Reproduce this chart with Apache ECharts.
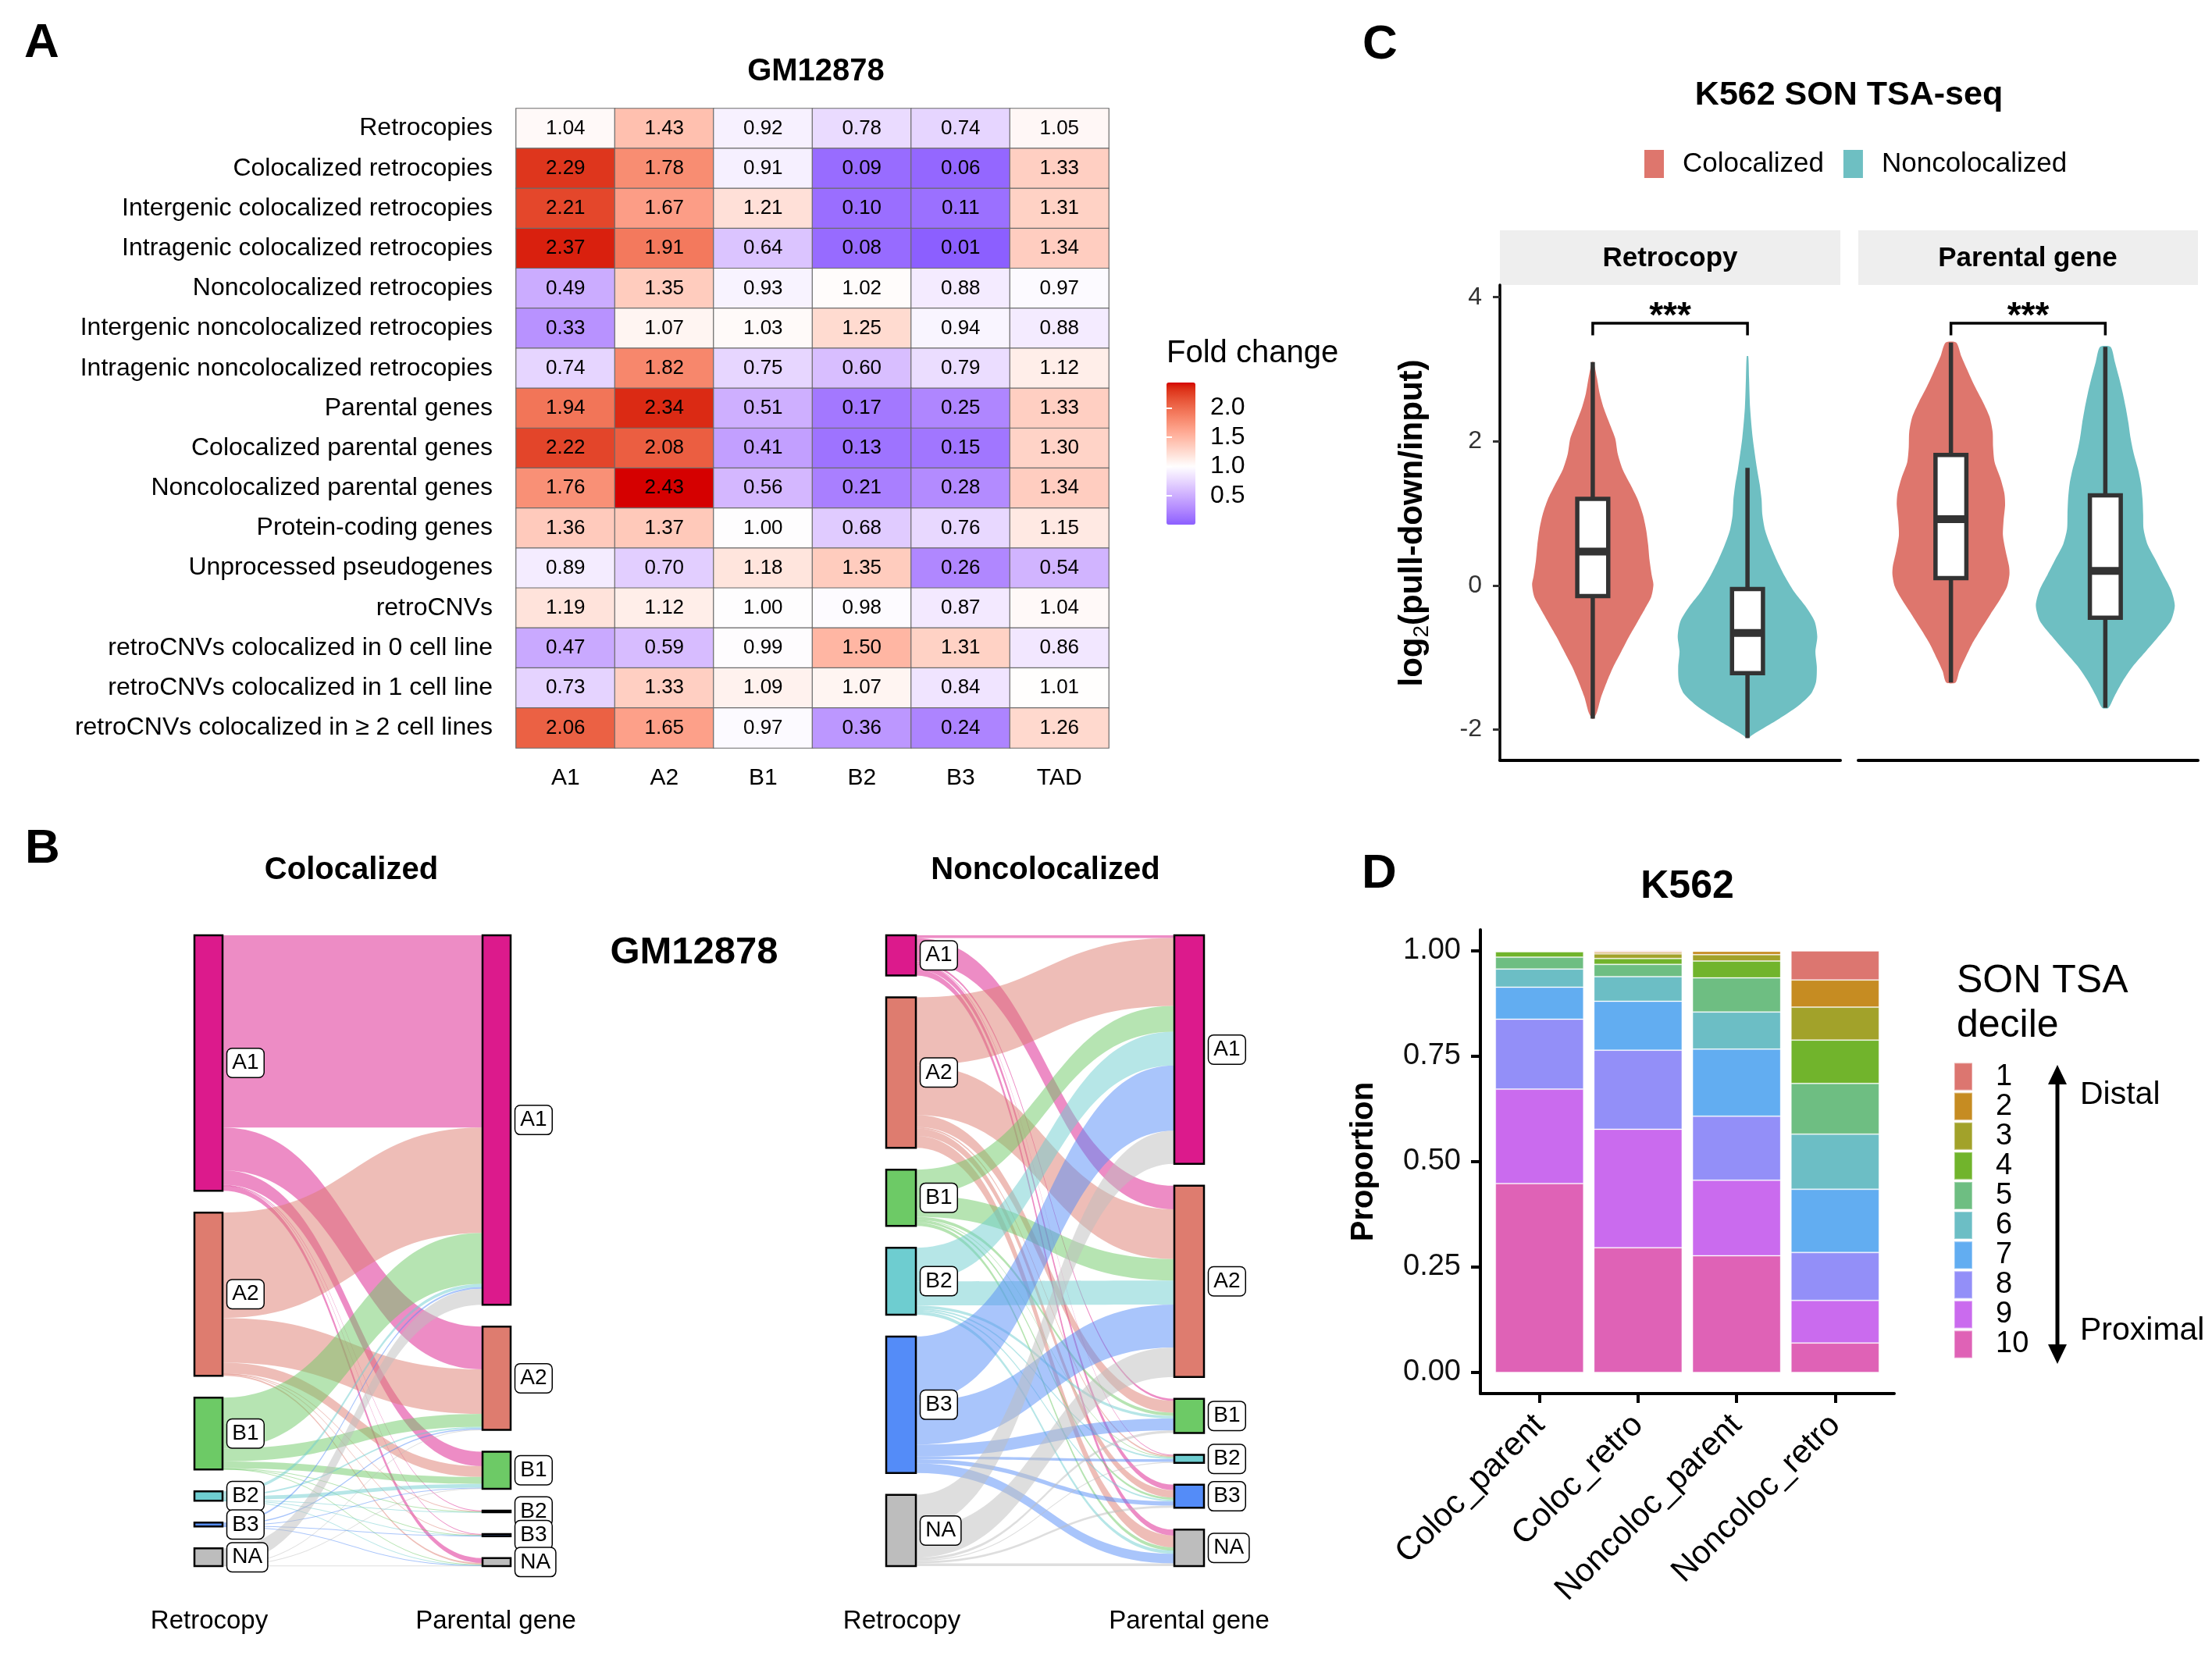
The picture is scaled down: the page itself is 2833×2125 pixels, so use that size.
<!DOCTYPE html>
<html><head><meta charset="utf-8">
<script src="https://cdn.jsdelivr.net/npm/echarts@6/dist/echarts.min.js"></script>
<style>html,body{margin:0;padding:0;background:#fff}#c{width:2833px;height:2125px}</style>
</head><body><div id="c"></div>
<script>
const FONT = '"Liberation Sans", Arial, Helvetica, sans-serif';

// ---------------- Panel A data ----------------
const heatRows = ["Retrocopies","Colocalized retrocopies","Intergenic colocalized retrocopies","Intragenic colocalized retrocopies","Noncolocalized retrocopies","Intergenic noncolocalized retrocopies","Intragenic noncolocalized retrocopies","Parental genes","Colocalized parental genes","Noncolocalized parental genes","Protein-coding genes","Unprocessed pseudogenes","retroCNVs","retroCNVs colocalized in 0 cell line","retroCNVs colocalized in 1 cell line","retroCNVs colocalized in \u2265 2 cell lines"];
const heatCols = ["A1","A2","B1","B2","B3","TAD"];
const heatValues = [
  [1.04,1.43,0.92,0.78,0.74,1.05],
  [2.29,1.78,0.91,0.09,0.06,1.33],
  [2.21,1.67,1.21,0.10,0.11,1.31],
  [2.37,1.91,0.64,0.08,0.01,1.34],
  [0.49,1.35,0.93,1.02,0.88,0.97],
  [0.33,1.07,1.03,1.25,0.94,0.88],
  [0.74,1.82,0.75,0.60,0.79,1.12],
  [1.94,2.34,0.51,0.17,0.25,1.33],
  [2.22,2.08,0.41,0.13,0.15,1.30],
  [1.76,2.43,0.56,0.21,0.28,1.34],
  [1.36,1.37,1.00,0.68,0.76,1.15],
  [0.89,0.70,1.18,1.35,0.26,0.54],
  [1.19,1.12,1.00,0.98,0.87,1.04],
  [0.47,0.59,0.99,1.50,1.31,0.86],
  [0.73,1.33,1.09,1.07,0.84,1.01],
  [2.06,1.65,0.97,0.36,0.24,1.26]
];
const foldTicks = [0.5, 1.0, 1.5, 2.0];
const foldMid = 1;

// ---------------- Panel B data ----------------
const strata = ["A1","A2","B1","B2","B3","NA"];
// rows: retrocopy stratum, columns: parental gene stratum
const colocFlows = [
  [359, 80, 27, 1, 1, 9],
  [197, 83, 20, 1, 1, 3],
  [95, 24, 13, 0.5, 0.5, 1],
  [6, 3, 7, 0.5, 0.5, 0.5],
  [3, 2, 1, 0, 1, 0.5],
  [30, 1, 1, 0, 0, 1]
];
const noncolocFlows = [
  [5, 44, 4, 1, 10, 11],
  [127, 93, 22, 3, 14, 22],
  [48, 40, 6, 1, 4, 6],
  [63, 45, 5, 3, 3, 6],
  [122, 80, 22, 5, 8, 18],
  [62, 55, 5, 2, 4, 5]
];

// ---------------- Panel C data ----------------
const violinGroups = ["Colocalized","Noncolocalized"];
const facetNames = ["Retrocopy","Parental gene"];
// [value, half-width in group units]
const violinRetroColoc = [[3.10,0.005],[2.88,0.027],[2.67,0.044],[2.46,0.071],[2.25,0.108],[2.04,0.145],[1.82,0.162],[1.61,0.193],[1.40,0.243],[1.19,0.291],[0.98,0.324],[0.77,0.345],[0.56,0.358],[0.35,0.367],[0.13,0.382],[0.01,0.392],[-0.16,0.378],[-0.33,0.336],[-0.50,0.291],[-0.71,0.235],[-0.92,0.184],[-1.13,0.133],[-1.34,0.091],[-1.55,0.054],[-1.76,0.027],[-1.85,0.005]];
const violinRetroNoncoloc = [[3.18,0.005],[2.88,0.010],[2.46,0.017],[2.04,0.034],[1.61,0.062],[1.40,0.079],[1.19,0.091],[0.98,0.096],[0.77,0.113],[0.56,0.147],[0.35,0.189],[0.13,0.240],[-0.08,0.299],[-0.29,0.375],[-0.50,0.434],[-0.71,0.451],[-0.92,0.439],[-1.13,0.448],[-1.34,0.443],[-1.51,0.409],[-1.68,0.324],[-1.85,0.206],[-1.98,0.105],[-2.08,0.029],[-2.12,0.005]];
const violinParentColoc = [[3.37,0.034],[3.18,0.067],[2.97,0.110],[2.76,0.155],[2.55,0.206],[2.34,0.250],[2.13,0.270],[1.92,0.273],[1.71,0.283],[1.49,0.320],[1.28,0.346],[1.12,0.351],[0.90,0.341],[0.69,0.337],[0.48,0.354],[0.27,0.376],[0.15,0.379],[-0.02,0.363],[-0.19,0.320],[-0.40,0.256],[-0.61,0.194],[-0.82,0.135],[-1.03,0.088],[-1.19,0.054],[-1.35,0.030]];
const violinParentNoncoloc = [[3.31,0.034],[3.10,0.062],[2.89,0.088],[2.67,0.113],[2.46,0.133],[2.25,0.150],[2.04,0.164],[1.83,0.184],[1.62,0.211],[1.41,0.231],[1.20,0.241],[0.99,0.245],[0.78,0.248],[0.57,0.273],[0.36,0.324],[0.15,0.374],[-0.06,0.425],[-0.28,0.450],[-0.49,0.425],[-0.70,0.349],[-0.91,0.265],[-1.12,0.180],[-1.33,0.113],[-1.54,0.059],[-1.70,0.020]];
// [lower whisker, Q1, median, Q3, upper whisker]
const boxRetroColoc = [-1.85,-0.15,0.47,1.20,3.10];
const boxRetroNoncoloc = [-2.12,-1.22,-0.66,-0.05,1.63];
const boxParentColoc = [-1.35,0.10,0.92,1.81,3.37];
const boxParentNoncoloc = [-1.70,-0.45,0.20,1.25,3.31];
const yTicksC = [-2, 0, 2, 4];
const sigLabel = "***";
const bracketTop = 3.64, bracketLeg = 3.47;

// ---------------- Panel D data ----------------
const dCategories = ["Coloc_parent","Coloc_retro","Noncoloc_parent","Noncoloc_retro"];
const decileNames = ["1","2","3","4","5","6","7","8","9","10"];
const decile1 = [0.0005,0.003,0.001,0.069];
const decile2 = [0.0005,0.004,0.008,0.0645];
const decile3 = [0.001,0.011,0.015,0.078];
const decile4 = [0.013,0.014,0.040,0.103];
const decile5 = [0.028,0.029,0.081,0.120];
const decile6 = [0.043,0.0585,0.088,0.131];
const decile7 = [0.076,0.116,0.159,0.150];
const decile8 = [0.166,0.1875,0.152,0.1135];
const decile9 = [0.224,0.281,0.179,0.101];
const decile10 = [0.448,0.296,0.277,0.070];
const dTicks = [0, 0.25, 0.5, 0.75, 1];

// ---------------- colours (style) ----------------
const strataColors = ["#DC1A8C","#DE7C6F","#6DCA66","#6ECDD0","#548CF8","#BDBDBD"];
const groupColors = ["#DE766D","#6EBFC2"];
const decileColors = ["#DC7670","#C68C22","#A2A22A","#71B42C","#6EBE82","#6CBEC5","#62ADF1","#938FF8","#CA6BEE","#DF62B6"];

function hex2rgb(h){h=h.replace('#','');return [0,2,4].map(i=>parseInt(h.substr(i,2),16));}
function s2l(c){c/=255;return c<=0.04045?c/12.92:Math.pow((c+0.055)/1.055,2.4);}
function l2s(c){c=c<=0.0031308?12.92*c:1.055*Math.pow(c,1/2.4)-0.055;return Math.round(Math.max(0,Math.min(1,c))*255);}
function rgb2lab(rgb){const [r,g,b]=rgb.map(s2l);const X=(0.4124*r+0.3576*g+0.1805*b)/0.95047,Y=0.2126*r+0.7152*g+0.0722*b,Z=(0.0193*r+0.1192*g+0.9505*b)/1.08883;const f=t=>t>0.008856?Math.cbrt(t):7.787*t+16/116;const fx=f(X),fy=f(Y),fz=f(Z);return [116*fy-16,500*(fx-fy),200*(fy-fz)];}
function lab2rgb(lab){const [L,a,b]=lab;const fy=(L+16)/116,fx=fy+a/500,fz=fy-b/200;const inv=t=>t*t*t>0.008856?t*t*t:(t-16/116)/7.787;const X=inv(fx)*0.95047,Y=inv(fy),Z=inv(fz)*1.08883;const r=3.2406*X-1.5372*Y-0.4986*Z,g=-0.9689*X+1.8758*Y+0.0415*Z,bb=0.0557*X-0.2040*Y+1.0570*Z;return 'rgb('+[r,g,bb].map(l2s).join(',')+')';}
const allVals = heatValues.flat();
const vMin = Math.min(...allVals), vMax = Math.max(...allVals);
const maxDev = Math.max(...allVals.map(v=>Math.abs(v-foldMid)));
const LAB_LOW = rgb2lab(hex2rgb('#0000FF')), LAB_MID = rgb2lab([255,255,255]), LAB_HIGH = rgb2lab(hex2rgb('#D50000'));
function fcColor(v){const t=(v-foldMid)/maxDev;const tg=t>=0?LAB_HIGH:LAB_LOW;const a=Math.min(1,Math.abs(t));return lab2rgb(LAB_MID.map((m,i)=>m+(tg[i]-m)*a));}
const colorStops = [];
for(let i=0;i<=80;i++){colorStops.push(fcColor(vMin+(vMax-vMin)*i/80));}

// ---------------- builders ----------------
const heatData = [];
heatValues.forEach((row,r)=>row.forEach((v,c)=>heatData.push([c,r,v])));

function sankeyData(flows){
  const nodes=[];
  strata.forEach((s,i)=>nodes.push({name:'R_'+s,itemStyle:{color:strataColors[i]}}));
  strata.forEach((s,i)=>nodes.push({name:'P_'+s,itemStyle:{color:strataColors[i]}}));
  const links=[];
  flows.forEach((row,i)=>row.forEach((v,j)=>{if(v>0)links.push({source:'R_'+strata[i],target:'P_'+strata[j],value:v});}));
  return {nodes,links};
}
function sankeySeries(flows,left,width,nodeWidth){
  const d=sankeyData(flows);
  return {type:'sankey',left:left,top:1198,width:width,height:808,nodeWidth:nodeWidth,nodeGap:28,
    layoutIterations:0,draggable:false,silent:true,emphasis:{disabled:true},
    data:d.nodes,links:d.links,
    itemStyle:{borderColor:'#000',borderWidth:2.5},
    lineStyle:{color:'source',opacity:0.5,curveness:0.5},
    label:{show:true,position:'right',distance:5,formatter:p=>p.name.slice(2),fontSize:28,color:'#000',fontFamily:FONT,
      backgroundColor:'#fff',borderColor:'#000',borderWidth:1.5,borderRadius:6,padding:[5,6,3,6]}};
}
function violinSeries(name,xIdx,yIdx,color,profile,stats,xPos){
  return {type:'custom',name:name,xAxisIndex:xIdx,yAxisIndex:yIdx,itemStyle:{color:color},clip:false,silent:true,
    data:[[xPos].concat(stats)],encode:{x:0,y:[1,2,3,4,5]},
    renderItem:function(params,api){
      const x=api.value(0),lo=api.value(1),q1=api.value(2),med=api.value(3),q3=api.value(4),hi=api.value(5);
      const right=profile.map(p=>api.coord([x+p[1],p[0]]));
      const left=profile.slice().reverse().map(p=>api.coord([x-p[1],p[0]]));
      const bw=0.1;
      const tl=api.coord([x-bw,q3]),br=api.coord([x+bw,q1]);
      const ch=api.coord([x,hi]),c3=api.coord([x,q3]),c1=api.coord([x,q1]),cl=api.coord([x,lo]);
      const ml=api.coord([x-bw,med]),mr=api.coord([x+bw,med]);
      return {type:'group',children:[
        {type:'polygon',shape:{points:right.concat(left),smooth:0.25},style:{fill:color}},
        {type:'line',shape:{x1:ch[0],y1:ch[1],x2:c3[0],y2:c3[1]},style:{stroke:'#333',lineWidth:5.5}},
        {type:'line',shape:{x1:c1[0],y1:c1[1],x2:cl[0],y2:cl[1]},style:{stroke:'#333',lineWidth:5.5}},
        {type:'rect',shape:{x:tl[0],y:tl[1],width:br[0]-tl[0],height:br[1]-tl[1]},style:{fill:'#fff',stroke:'#333',lineWidth:5.5}},
        {type:'line',shape:{x1:ml[0],y1:ml[1],x2:mr[0],y2:mr[1]},style:{stroke:'#333',lineWidth:10}}
      ]};
    }};
}
function bracketSeries(xIdx,yIdx){
  return {type:'custom',name:'sig',xAxisIndex:xIdx,yAxisIndex:yIdx,clip:false,silent:true,
    data:[[1,2,bracketTop,bracketLeg]],
    renderItem:function(params,api){
      const a=api.coord([api.value(0),api.value(3)]),b=api.coord([api.value(0),api.value(2)]);
      const c=api.coord([api.value(1),api.value(2)]),d=api.coord([api.value(1),api.value(3)]);
      const t=api.coord([(api.value(0)+api.value(1))/2,api.value(2)]);
      return {type:'group',children:[
        {type:'polyline',shape:{points:[a,b,c,d]},style:{stroke:'#000',lineWidth:3.5,fill:null}},
        {type:'text',x:t[0],y:t[1]-8,style:{text:sigLabel,fontSize:46,fontWeight:'bold',fontFamily:FONT,fill:'#000',align:'center',verticalAlign:'middle'}}
      ]};
    }};
}
function txt(text,x,y,size,weight,align,extra){
  return Object.assign({type:'text',x:x,y:y,silent:true,style:{text:text,fontSize:size,fontWeight:weight||'normal',fontFamily:FONT,fill:'#000',align:align||'center',verticalAlign:'middle'}},extra||{});
}

const decileSets = [decile1,decile2,decile3,decile4,decile5,decile6,decile7,decile8,decile9,decile10];
const barSeries = [];
for(let k=9;k>=0;k--){
  // column 0 = proportion (y), column 1 = bar position (x); listing y first makes the stack run along y
  barSeries.push({type:'bar',name:decileNames[k],xAxisIndex:4,yAxisIndex:5,stack:'tsa',barWidth:113,silent:true,
    encode:{x:1,y:0},
    data:decileSets[k].map((v,i)=>[v,i+1]),
    itemStyle:{color:decileColors[k],borderColor:'rgba(255,255,255,0.35)',borderWidth:1}});
}

const axisBlack = {show:true,onZero:false,lineStyle:{color:'#000',width:4}};

const option = {
  animation:false,
  backgroundColor:'#fff',
  textStyle:{fontFamily:FONT},
  grid:[
    {left:661,top:139,width:759,height:819},
    {left:1494,top:490,width:37,height:182},
    {left:1921,top:365,width:436,height:609},
    {left:2380,top:365,width:435,height:609},
    {left:1896,top:1191,width:530,height:594}
  ],
  xAxis:[
    {gridIndex:0,type:'category',data:heatCols,position:'bottom',axisLine:{show:false},axisTick:{show:false},
      axisLabel:{fontSize:30,color:'#000',margin:24},splitLine:{show:false}},
    {gridIndex:1,type:'value',min:0,max:1,show:false},
    {gridIndex:2,type:'value',min:0.4,max:2.6,axisLine:axisBlack,axisTick:{show:false},axisLabel:{show:false},splitLine:{show:false}},
    {gridIndex:3,type:'value',min:0.4,max:2.6,axisLine:axisBlack,axisTick:{show:false},axisLabel:{show:false},splitLine:{show:false}},
    {gridIndex:4,type:'value',min:0.4,max:4.6,axisLine:axisBlack,
      axisTick:{show:true,customValues:[1,2,3,4],length:12,lineStyle:{color:'#000',width:4}},
      axisLabel:{customValues:[1,2,3,4],formatter:v=>dCategories[Math.round(v)-1],rotate:45,fontSize:42,color:'#000',margin:34},
      splitLine:{show:false}}
  ],
  yAxis:[
    {gridIndex:0,type:'category',data:heatRows,inverse:true,axisLine:{show:false},axisTick:{show:false},
      axisLabel:{fontSize:32,color:'#000',margin:30},splitLine:{show:false}},
    {gridIndex:1,type:'value',min:vMin,max:vMax,position:'right',z:10,axisLine:{show:false},
      axisTick:{show:true,inside:true,length:7,customValues:foldTicks,lineStyle:{color:'#fff',width:2}},
      axisLabel:{customValues:foldTicks,formatter:v=>v.toFixed(1),fontSize:32,color:'#000',margin:19},splitLine:{show:false}},
    {gridIndex:1,type:'value',min:vMin,max:vMax,position:'left',z:10,axisLine:{show:false},
      axisTick:{show:true,inside:true,length:7,customValues:foldTicks,lineStyle:{color:'#fff',width:2}},
      axisLabel:{show:false},splitLine:{show:false}},
    {gridIndex:2,type:'value',min:-2.43,max:4.17,axisLine:{show:true,onZero:false,lineStyle:{color:'#000',width:3.5}},
      axisTick:{show:true,customValues:yTicksC,length:9,lineStyle:{color:'#333',width:3}},
      axisLabel:{customValues:yTicksC,fontSize:32,color:'#333',margin:23},splitLine:{show:false}},
    {gridIndex:3,type:'value',min:-2.43,max:4.17,axisLine:{show:false},axisTick:{show:false},axisLabel:{show:false},splitLine:{show:false}},
    {gridIndex:4,type:'value',min:-0.05,max:1.05,axisLine:axisBlack,
      axisTick:{show:true,customValues:dTicks,length:12,lineStyle:{color:'#000',width:4}},
      axisLabel:{customValues:dTicks,formatter:v=>v.toFixed(2),fontSize:38,color:'#111',margin:25},splitLine:{show:false}}
  ],
  visualMap:[{type:'continuous',seriesIndex:0,dimension:2,min:vMin,max:vMax,calculable:false,hoverLink:false,
    left:1494,top:490,itemWidth:37,itemHeight:182,padding:0,orient:'vertical',inRange:{color:colorStops},textStyle:{color:'transparent'}}],
  legend:[
    {data:violinGroups.map((g,i)=>({name:g,icon:'rect',itemStyle:{color:groupColors[i]}})),
      left:2106,top:192,orient:'horizontal',itemWidth:25,itemHeight:36,itemGap:25,padding:0,selectedMode:false,
      textStyle:{fontSize:35,color:'#000',padding:[0,0,0,19]}},
    {data:decileNames.map((g,i)=>({name:g,icon:'rect',itemStyle:{color:decileColors[i]}})),
      left:2502,top:1360,orient:'vertical',itemWidth:23,itemHeight:35,itemGap:0,padding:0,selectedMode:false,
      textStyle:{fontSize:38,color:'#000',lineHeight:38.1,padding:[0,0,0,25]}}
  ],
  series:[
    {type:'heatmap',xAxisIndex:0,yAxisIndex:0,data:heatData,silent:true,emphasis:{disabled:true},
      itemStyle:{borderColor:'#6b6b6b',borderWidth:1.2},
      label:{show:true,formatter:p=>p.value[2].toFixed(2),fontSize:26,color:'#000'}},
    sankeySeries(colocFlows,249,405,36),
    sankeySeries(noncolocFlows,1135,407,38),
    violinSeries(violinGroups[0],2,3,groupColors[0],violinRetroColoc,boxRetroColoc,1),
    violinSeries(violinGroups[1],2,3,groupColors[1],violinRetroNoncoloc,boxRetroNoncoloc,2),
    violinSeries(violinGroups[0],3,4,groupColors[0],violinParentColoc,boxParentColoc,1),
    violinSeries(violinGroups[1],3,4,groupColors[1],violinParentNoncoloc,boxParentNoncoloc,2),
    bracketSeries(2,3),
    bracketSeries(3,4)
  ].concat(barSeries),
  graphic:[
    txt('A',31,56,62,'bold','left'),
    txt('GM12878',1045,92,40,'bold','center'),
    txt('Fold change',1494,453,40,'normal','left'),
    txt('B',32,1088,62,'bold','left'),
    txt('Colocalized',450,1115,40,'bold','center'),
    txt('Noncolocalized',1339,1115,40,'bold','center'),
    txt('GM12878',889,1220,49,'bold','center'),
    txt('Retrocopy',268,2077,33),
    txt('Parental gene',635,2077,33),
    txt('Retrocopy',1155,2077,33),
    txt('Parental gene',1523,2077,33),
    txt('C',1745,58,62,'bold','left'),
    txt('K562 SON TSA-seq',2368,122,43,'bold','center'),
    {type:'rect',silent:true,shape:{x:1921,y:295,width:436,height:70},style:{fill:'#EEEEEE'}},
    {type:'rect',silent:true,shape:{x:2380,y:295,width:435,height:70},style:{fill:'#EEEEEE'}},
    txt(facetNames[0],2139,331,35,'bold','center'),
    txt(facetNames[1],2597,331,35,'bold','center'),
    {type:'text',x:1809,y:670,rotation:Math.PI/2,silent:true,style:{
      text:'{a|log}{b|2}{a|(pull-down/input)}',align:'center',verticalAlign:'middle',
      rich:{a:{fontSize:42,fontWeight:'bold',fontFamily:FONT,fill:'#000',color:'#000',verticalAlign:'middle'},
            b:{fontSize:28,fontWeight:'normal',fontFamily:FONT,fill:'#000',color:'#000',padding:[24,0,0,0],verticalAlign:'middle'}}}},
    txt('D',1744,1120,62,'bold','left'),
    txt('K562',2161,1136,50,'bold','center'),
    txt('SON TSA',2506,1257,50,'normal','left'),
    txt('decile',2506,1314,50,'normal','left'),
    {type:'line',silent:true,shape:{x1:2635,y1:1385,x2:2635,y2:1726},style:{stroke:'#000',lineWidth:5}},
    {type:'polygon',silent:true,shape:{points:[[2623,1389],[2647,1389],[2635,1364]]},style:{fill:'#000'}},
    {type:'polygon',silent:true,shape:{points:[[2623,1722],[2647,1722],[2635,1747]]},style:{fill:'#000'}},
    txt('Distal',2664,1403,41,'normal','left'),
    txt('Proximal',2664,1705,41,'normal','left'),
    txt('Proportion',1747,1488,40,'bold','center',{rotation:Math.PI/2})
  ]
};
const chart = echarts.init(document.getElementById('c'),null,{renderer:'canvas',width:2833,height:2125});
chart.setOption(option);
</script></body></html>
